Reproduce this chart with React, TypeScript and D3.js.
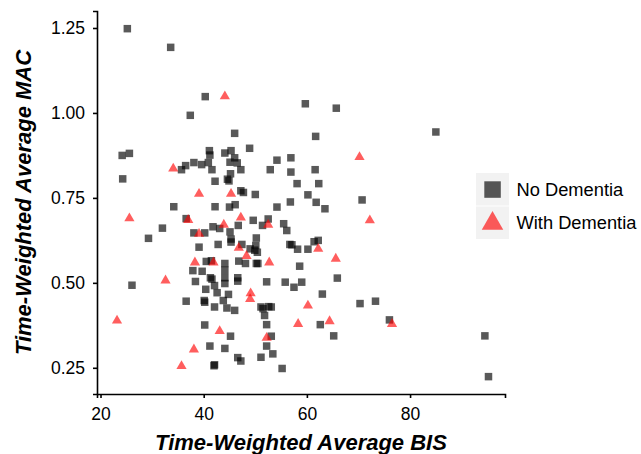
import React, { useEffect, useRef } from 'react';
import * as d3 from 'd3';

// values
const noDementiaBIS = [
  25.2, 33.6, 40.3, 37.4, 46.0, 48.9, 24.2, 25.6, 24.3, 41.1, 41.2, 44.1, 45.3, 46.0, 45.1, 46.5,
  35.7, 36.5, 38.1, 39.6, 40.9, 41.6, 42.2, 44.9, 44.6, 45.2, 47.2, 47.2, 47.7, 50.0, 52.9, 54.2,
  56.9, 56.9, 59.7, 65.7, 61.7, 85.0, 61.6, 58.1, 62.3, 60.2, 56.8, 61.8, 63.5, 70.7, 55.5, 56.1,
  57.1, 58.2, 60.2, 61.4, 62.2, 58.6, 55.8, 57.5, 59.0, 65.9, 63.0, 70.3, 73.3, 76.0, 62.6, 65.2,
  94.5, 95.2, 55.2, 34.2, 42.2, 45.0, 46.1, 54.2, 32.0, 29.3, 36.6, 38.1, 40.2, 41.8, 43.1, 45.1,
  45.3, 45.3, 46.7, 49.6, 52.5, 51.4, 42.8, 39.1, 47.4, 49.0, 50.2, 50.1, 49.9, 50.4, 56.7, 40.5,
  41.5, 37.9, 39.7, 44.1, 44.1, 44.1, 44.1, 46.8, 48.1, 50.2, 50.5, 41.3, 41.6, 46.6, 46.6, 38.4,
  52.2, 40.4, 42.1, 42.6, 44.8, 36.6, 40.1, 40.2, 43.8, 42.1, 44.5, 46.0, 51.1, 51.5, 51.8, 53.1,
  52.6, 40.2, 52.2, 45.2, 53.1, 41.2, 44.1, 52.2, 53.4, 42.1, 42.0, 46.6, 47.2, 51.1, 26.1
];
const noDementiaMAC = [
  1.248, 1.193, 1.048, 0.993, 0.940, 0.896, 0.875, 0.881, 0.806, 0.889, 0.876, 0.882, 0.889, 0.868, 0.855, 0.853,
  0.833, 0.845, 0.854, 0.848, 0.854, 0.833, 0.799, 0.800, 0.805, 0.821, 0.833, 0.771, 0.766, 0.760, 0.833, 0.861,
  0.868, 0.826, 1.027, 1.014, 0.931, 0.944, 0.833, 0.792, 0.792, 0.759, 0.738, 0.737, 0.718, 0.744, 0.674, 0.654,
  0.612, 0.599, 0.599, 0.621, 0.625, 0.549, 0.502, 0.487, 0.502, 0.514, 0.467, 0.439, 0.446, 0.391, 0.377, 0.344,
  0.344, 0.224, 0.248, 0.724, 0.724, 0.723, 0.730, 0.723, 0.661, 0.631, 0.689, 0.647, 0.647, 0.665, 0.660, 0.650,
  0.629, 0.620, 0.669, 0.684, 0.688, 0.669, 0.613, 0.605, 0.613, 0.600, 0.632, 0.610, 0.596, 0.590, 0.613, 0.563,
  0.565, 0.536, 0.534, 0.557, 0.537, 0.515, 0.498, 0.564, 0.557, 0.557, 0.557, 0.515, 0.511, 0.515, 0.505, 0.504,
  0.503, 0.481, 0.492, 0.471, 0.466, 0.446, 0.448, 0.443, 0.448, 0.429, 0.426, 0.419, 0.429, 0.424, 0.404, 0.429,
  0.430, 0.376, 0.377, 0.343, 0.343, 0.314, 0.307, 0.314, 0.291, 0.259, 0.256, 0.280, 0.270, 0.281, 0.493
];
const withDementiaBIS = [
  44.1, 34.1, 39.1, 45.3, 70.2, 72.2, 62.2, 65.6, 60.2, 58.3, 64.4, 76.5, 25.6, 37.0, 47.2, 43.9,
  52.5, 39.1, 46.8, 48.3, 38.3, 41.9, 52.7, 32.6, 49.1, 49.0, 23.2, 43.1, 52.2, 38.1, 35.7
];
const withDementiaMAC = [
  1.049, 0.836, 0.762, 0.762, 0.870, 0.684, 0.600, 0.571, 0.433, 0.379, 0.387, 0.379, 0.690, 0.685, 0.692, 0.671,
  0.671, 0.644, 0.603, 0.579, 0.560, 0.560, 0.560, 0.507, 0.469, 0.452, 0.389, 0.358, 0.338, 0.304, 0.255
];
const xTicks = [20, 40, 60, 80];
const yTicks = [0.25, 0.5, 0.75, 1.0, 1.25];
const legendLabels = ['No Dementia', 'With Dementia'];

const width = 641;
const height = 454;
const margin = { top: 11, right: 136, bottom: 60, left: 97 };
const font = 'Liberation Sans, Arial, Helvetica, sans-serif';

export default function App() {
  const ref = useRef<SVGSVGElement>(null);

  useEffect(() => {
    const svg = d3.select(ref.current);
    svg.selectAll('*').remove();

    const x = d3.scaleLinear().domain([19.32, 98.4]).range([margin.left, width - margin.right]);
    const y = d3.scaleLinear().domain([0.1729, 1.3]).range([height - margin.bottom, margin.top]);

    // axes
    const xAxis = svg.append('g')
      .attr('transform', `translate(0,${height - margin.bottom})`)
      .call(d3.axisBottom(x).tickValues(xTicks).tickSize(4).tickPadding(5).tickFormat(d3.format('d')));
    const yAxis = svg.append('g')
      .attr('transform', `translate(${margin.left},0)`)
      .call(d3.axisLeft(y).tickValues(yTicks).tickSize(4).tickPadding(8).tickFormat(d3.format('.2f')));
    [xAxis, yAxis].forEach(g => {
      g.select('.domain').attr('stroke', '#000').attr('stroke-width', 1.6);
      g.selectAll('.tick line').attr('stroke', '#000').attr('stroke-width', 1.6);
      g.selectAll('.tick text')
        .attr('fill', '#000')
        .style('font-family', font)
        .style('font-size', '17.5px');
    });
    xAxis.selectAll('.tick text').attr('dy', '0.95em');

    // points
    const nd = noDementiaBIS.map((b, i) => ({ bis: b, mac: noDementiaMAC[i] }));
    const wd = withDementiaBIS.map((b, i) => ({ bis: b, mac: withDementiaMAC[i] }));
    const sq = 7.5;
    svg.append('g').selectAll('rect').data(nd).join('rect')
      .attr('x', d => x(d.bis) - sq / 2)
      .attr('y', d => y(d.mac) - sq / 2)
      .attr('width', sq)
      .attr('height', sq)
      .attr('fill', '#000')
      .attr('fill-opacity', 0.65);
    const tri = d3.symbol().type(d3.symbolTriangle).size(45);
    svg.append('g').selectAll('path').data(wd).join('path')
      .attr('transform', d => `translate(${x(d.bis)},${y(d.mac)})`)
      .attr('d', tri())
      .attr('fill', '#ff0000')
      .attr('fill-opacity', 0.63);

    // axis titles
    svg.append('text')
      .attr('x', (margin.left + width - margin.right) / 2)
      .attr('y', 450)
      .attr('text-anchor', 'middle')
      .style('font-family', font)
      .style('font-size', '22px')
      .style('font-weight', 'bold')
      .style('font-style', 'italic')
      .text('Time-Weighted Average BIS');
    svg.append('text')
      .attr('transform', `translate(31,${(margin.top + height - margin.bottom) / 2}) rotate(-90)`)
      .attr('text-anchor', 'middle')
      .style('font-family', font)
      .style('font-size', '22px')
      .style('font-weight', 'bold')
      .style('font-style', 'italic')
      .text('Time-Weighted Average MAC');

    // legend
    const legend = svg.append('g').attr('transform', 'translate(476,173)');
    legendLabels.forEach((label, i) => {
      const row = legend.append('g').attr('transform', `translate(0,${i * 33.5})`);
      row.append('rect')
        .attr('width', 33).attr('height', 32.5)
        .attr('fill', '#f2f2f2');
      if (i === 0) {
        row.append('rect')
          .attr('x', 8.3).attr('y', 8.3).attr('width', 16.5).attr('height', 16.5)
          .attr('fill', '#000').attr('fill-opacity', 0.65);
      } else {
        row.append('path')
          .attr('transform', 'translate(16.5,17)')
          .attr('d', d3.symbol().type(d3.symbolTriangle).size(200)())
          .attr('fill', '#ff0000').attr('fill-opacity', 0.63);
      }
      row.append('text')
        .attr('x', 40.5)
        .attr('y', 16.5)
        .attr('dy', '0.35em')
        .style('font-family', font)
        .style('font-size', '18.3px')
        .text(label);
    });
  }, []);

  return (
    <svg
      ref={ref}
      width={width}
      height={height}
      style={{ position: 'absolute', left: 0, top: 0, background: '#fff' }}
    />
  );
}
